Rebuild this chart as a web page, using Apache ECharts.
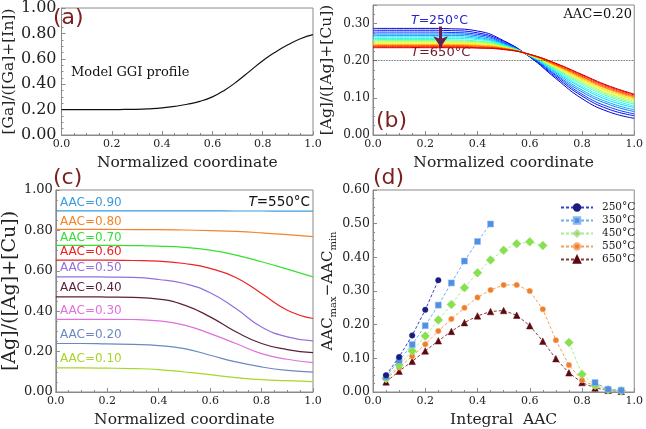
<!DOCTYPE html>
<html><head><meta charset="utf-8">
<script src="https://cdn.jsdelivr.net/npm/echarts@6/dist/echarts.min.js"></script>
<style>html,body{margin:0;padding:0;background:#fff}#c{width:646px;height:429px}</style>
</head><body><div id="c"></div><script>
// ---------- data ----------
// (a) model GGI profile
const xA = [0,0.05,0.1,0.15,0.2,0.25,0.3,0.35,0.4,0.45,0.5,0.55,0.6,0.65,0.7,0.75,0.8,0.85,0.9,0.95,1.0];
const ggi = [0.200,0.200,0.200,0.200,0.200,0.201,0.202,0.206,0.213,0.225,0.242,0.265,0.300,0.355,0.425,0.505,0.585,0.652,0.710,0.758,0.790];
// (b) Ag profiles for T = 250..650 C, AAC = 0.20
const xB = [0,0.1,0.2,0.3,0.4,0.5,0.6,0.7,0.8,0.9,1.0];
const bTemps = [250,275,300,325,350,375,400,425,450,475,500,525,550,575,600,625,650];
const bProfiles = [
 [.287,.287,.287,.286,.280,.254,.210,.152,.098,.063,.045],
 [.282,.282,.282,.281,.275,.252,.211,.156,.105,.070,.052],
 [.277,.277,.277,.276,.271,.249,.211,.160,.110,.076,.057],
 [.272,.272,.272,.272,.267,.247,.212,.163,.116,.083,.063],
 [.268,.268,.268,.268,.263,.245,.213,.167,.121,.088,.068],
 [.264,.264,.264,.264,.260,.243,.213,.170,.127,.094,.074],
 [.260,.260,.260,.260,.257,.242,.214,.173,.131,.099,.078],
 [.257,.257,.257,.256,.253,.240,.214,.176,.136,.104,.083],
 [.254,.254,.254,.253,.251,.239,.214,.178,.140,.108,.087],
 [.251,.251,.251,.250,.248,.237,.215,.181,.144,.112,.091],
 [.248,.248,.248,.248,.246,.236,.215,.183,.147,.116,.094],
 [.245,.245,.245,.245,.243,.235,.216,.185,.150,.119,.097],
 [.243,.243,.243,.243,.241,.234,.216,.187,.153,.123,.100],
 [.241,.241,.241,.241,.239,.233,.216,.188,.156,.125,.103],
 [.239,.239,.239,.239,.237,.232,.217,.190,.158,.128,.105],
 [.237,.237,.237,.237,.235,.231,.217,.192,.161,.131,.108],
 [.235,.235,.235,.235,.234,.230,.217,.193,.163,.133,.110]
];
const bColors = ['#0000d1','#0008ff','#003dff','#0073ff','#00a8ff','#00ddff','#14ffeb','#4affb5','#80ff80','#b5ff4a','#ebff14','#ffdd00','#ffa800','#ff7300','#ff3d00','#ff0800','#d10000'];
// (c) Ag profiles at 550 C for AAC = 0.1..0.9
const xC = [0,0.1,0.2,0.3,0.4,0.5,0.6,0.7,0.8,0.9,1.0];
const cLabels = ['AAC=0.90','AAC=0.80','AAC=0.70','AAC=0.60','AAC=0.50','AAC=0.40','AAC=0.30','AAC=0.20','AAC=0.10'];
const c90 = [.897,.897,.897,.897,.897,.897,.897,.896,.896,.895,.895];
const c80 = [.805,.805,.805,.804,.804,.802,.799,.795,.788,.779,.769];
const c70 = [.726,.726,.726,.725,.722,.716,.702,.678,.645,.608,.570];
const c60 = [.653,.653,.653,.651,.648,.636,.612,.567,.488,.405,.364];
const c50 = [.570,.570,.569,.567,.557,.537,.491,.413,.322,.273,.253];
const c40 = [.471,.471,.470,.468,.460,.430,.372,.298,.240,.210,.195];
const c30 = [.360,.360,.360,.359,.352,.331,.289,.240,.190,.162,.145];
const c20 = [.240,.240,.238,.236,.230,.215,.182,.149,.124,.107,.098];
const c10 = [.119,.119,.118,.116,.111,.099,.086,.071,.061,.056,.051];
const cColors = ['#3a9be0','#f5832a','#33e033','#ee2222','#9370db','#5c1f3a','#e070e0','#6b89c0','#a8d62a'];
// (d) AAC spread vs integral AAC
const xD = [0.05,0.1,0.15,0.2,0.25,0.3,0.35,0.4,0.45,0.5,0.55,0.6,0.65,0.7,0.75,0.8,0.85,0.9,0.95];
const dNames = ['250°C','350°C','450°C','550°C','650°C'];
const d250 = [.050,.104,.168,.244,.332,null,null,null,null,null,null,null,null,null,null,null,null,null,null];
const d350 = [.045,.094,.141,.197,.258,.324,.389,.447,.499,null,null,null,null,null,null,null,.028,.008,.005];
const d450 = [.040,.080,.122,.166,.214,.260,.310,.354,.392,.421,.440,.446,.435,null,.147,.053,.020,.007,.004];
const d550 = [.038,.073,.106,.142,.181,.217,.250,.281,.303,.318,.318,.300,.246,.154,.080,.035,.018,.007,.003];
const d650 = [.030,.062,.091,.122,.152,.180,.206,.226,.239,.242,.228,.197,.151,.099,.057,.028,.012,.005,.002];

// ---------- option ----------
const SERIF = 'DejaVu Serif', SANS = 'DejaVu Sans';
const AXC = '#8a8a8a';
const zip = (xs, ys) => xs.map((x, i) => [x, ys[i] === null ? '-' : ys[i]]);

function xAx(gi, name) {
  return {type:'value', gridIndex:gi, min:0, max:1, interval:0.2,
    name:name, nameLocation:'middle', nameGap:20,
    nameTextStyle:{fontFamily:SERIF, fontSize:15.5, color:'#222'},
    axisLine:{show:true, lineStyle:{color:AXC}},
    axisTick:{show:true, inside:true, length:4, lineStyle:{color:AXC}},
    minorTick:{show:true, splitNumber:4, length:2, lineStyle:{color:AXC}},
    splitLine:{show:false},
    axisLabel:{fontFamily:SERIF, fontSize:11, color:'#222', margin:4, formatter:v=>v.toFixed(1)}};
}
function yAx(gi, max, interval, name, nameSize, labelSize, nameGap, margin) {
  return {type:'value', gridIndex:gi, min:0, max:max, interval:interval,
    name:name, nameLocation:'middle', nameGap:nameGap,
    nameTextStyle:{fontFamily:SERIF, fontSize:nameSize, color:'#222',
      rich:{a:{fontFamily:SERIF, fontSize:15, color:'#222'}, s:{fontFamily:SERIF, fontSize:10, color:'#222', padding:[9,0,0,0]}}},
    axisLine:{show:true, lineStyle:{color:AXC}},
    axisTick:{show:true, inside:true, length:4, lineStyle:{color:AXC}},
    minorTick:{show:true, splitNumber:4, length:2, lineStyle:{color:AXC}},
    splitLine:{show:false},
    axisLabel:{fontFamily:SERIF, fontSize:labelSize, color:'#222', margin:margin,
      formatter:v=>{const k=Math.round(v/interval); return Math.abs(k*interval - v) < 1e-6 ? v.toFixed(2) : '';}}};
}

const grids = [
  {left:50, top:5, width:263, height:130},
  {left:373, top:5, width:263, height:130},
  {left:50, top:190, width:263, height:202},
  {left:373, top:190, width:263, height:202}
].map(g => Object.assign(g, {show:true, borderColor:AXC, borderWidth:1, backgroundColor:'transparent'}));

const series = [];
series.push({type:'line', xAxisIndex:0, yAxisIndex:0, data:zip(xA, ggi), smooth:true, showSymbol:false,
  lineStyle:{color:'#111', width:1.2}, silent:true});

bProfiles.forEach((p, i) => {
  const s = {type:'line', name:'T'+bTemps[i], xAxisIndex:1, yAxisIndex:1, data:zip(xB, p), smooth:true,
    showSymbol:false, lineStyle:{color:bColors[i], width:1}, silent:true};
  if (i === 0) s.markLine = {silent:true, symbol:['none','none'], label:{show:false},
    data:[{yAxis:0.2}], lineStyle:{type:'dotted', color:'#333', width:0.8}};
  if (i === bProfiles.length - 1) s.markLine = {silent:true, symbol:['none','arrow'], symbolSize:11, label:{show:false},
    data:[[{coord:[0.259, 0.292]}, {coord:[0.259, 0.236]}]], lineStyle:{type:'solid', color:'#6b1d52', width:3}};
  series.push(s);
});

[c90,c80,c70,c60,c50,c40,c30,c20,c10].forEach((c, i) => {
  series.push({type:'line', xAxisIndex:2, yAxisIndex:2, data:zip(xC, c), smooth:true, showSymbol:false,
    lineStyle:{color:cColors[i], width:1.2}, silent:true});
});

const dStyles = [
  {d:d250, sym:'circle', size:5.5, c:'#1c1c80', lc:'#3040d0', bc:'#1c1c80'},
  {d:d350, sym:'rect', size:6, c:'#4f8fe6', lc:'#6ab0f0', bc:'#8fb8ee'},
  {d:d450, sym:'diamond', size:9, c:'#86e24a', lc:'#a8f08a', bc:'#b8dca0'},
  {d:d550, sym:'circle', size:5.5, c:'#f07d28', lc:'#f5a050', bc:'#f5b080'},
  {d:d650, sym:'triangle', size:6.5, c:'#5c0a10', lc:'#8a3a3a', bc:'#5c0a10'}
];
dStyles.forEach((s, i) => {
  series.push({type:'line', name:dNames[i], xAxisIndex:3, yAxisIndex:3, data:zip(xD, s.d),
    symbol:s.sym, symbolSize:s.size, showSymbol:true, connectNulls:false, z:10 - i,
    itemStyle:{color:s.c, borderColor:s.bc, borderWidth:0.5},
    lineStyle:{color:s.lc, width:1, type:[3,2]}});
});

const dark = '#7b1f1f';
const graphic = [
  {type:'text', x:53, y:18, style:{text:'(a)', fontFamily:SANS, fontSize:22, fill:dark, verticalAlign:'middle'}},
  {type:'text', x:376, y:121, style:{text:'(b)', fontFamily:SANS, fontSize:22, fill:dark, verticalAlign:'middle'}},
  {type:'text', x:53, y:178, style:{text:'(c)', fontFamily:SANS, fontSize:22, fill:dark, verticalAlign:'middle'}},
  {type:'text', x:373, y:178, style:{text:'(d)', fontFamily:SANS, fontSize:22, fill:dark, verticalAlign:'middle'}},
  {type:'text', x:71, y:73, style:{text:'Model GGI profile', fontFamily:SERIF, fontSize:13, fill:'#111', verticalAlign:'middle'}},
  {type:'text', x:632, y:15, style:{text:'AAC=0.20', fontFamily:SERIF, fontSize:13, fill:'#111', align:'right', verticalAlign:'middle'}},
  {type:'text', x:411, y:21, style:{text:'{i|T}=250°C', fontFamily:SANS, fontSize:12.5, fill:'#2626cc', verticalAlign:'middle',
     rich:{i:{fontFamily:SANS, fontStyle:'italic', fontSize:12.5, fill:'#2626cc'}}}},
  {type:'text', x:411, y:53, style:{text:'{i|T}=650°C', fontFamily:SANS, fontSize:13, fill:'#6b1a2a', verticalAlign:'middle',
     rich:{i:{fontFamily:SANS, fontStyle:'italic', fontSize:13, fill:'#6b1a2a'}}}},
  {type:'text', x:310, y:202, style:{text:'{i|T}=550°C', fontFamily:SANS, fontSize:13.5, fill:'#111', align:'right', verticalAlign:'middle',
     rich:{i:{fontFamily:SANS, fontStyle:'italic', fontSize:13.5, fill:'#111'}}}}
];
const cLabelY = [203,222,238,252,268,288,311,335,359];
cLabels.forEach((t, i) => graphic.push({type:'text', x:60, y:cLabelY[i],
  style:{text:t, fontFamily:SANS, fontSize:12, fill:cColors[i], verticalAlign:'middle'}}));

const option = {
  animation:false,
  backgroundColor:'#fff',
  grid:grids,
  xAxis:[xAx(0,'Normalized coordinate'), xAx(1,'Normalized coordinate'), xAx(2,'Normalized coordinate'), xAx(3,'Integral  AAC')],
  yAxis:[
    yAx(0, 1, 0.2, '[Ga]/([Ga]+[In])', 15.5, 16, 34, 5),
    yAx(1, 0.35, 0.1, '[Ag]/([Ag]+[Cu])', 15.5, 12, 38, 3),
    yAx(2, 1, 0.2, '[Ag]/([Ag]+[Cu])', 19, 13, 35, 3),
    yAx(3, 0.6, 0.1, '{a|AAC}{s|max}{a|−AAC}{s|min}', 15, 12.5, 35, 3)
  ],
  legend:{data:dNames, orient:'vertical', left:555, top:197, itemWidth:32, itemHeight:8, itemGap:2,
    textStyle:{fontFamily:SERIF, fontSize:10.5, color:'#222', padding:[0,0,0,4]}, selectedMode:false},
  series:series,
  graphic:graphic
};
echarts.init(document.getElementById('c'), null, {renderer:'canvas'}).setOption(option);
</script></body></html>
